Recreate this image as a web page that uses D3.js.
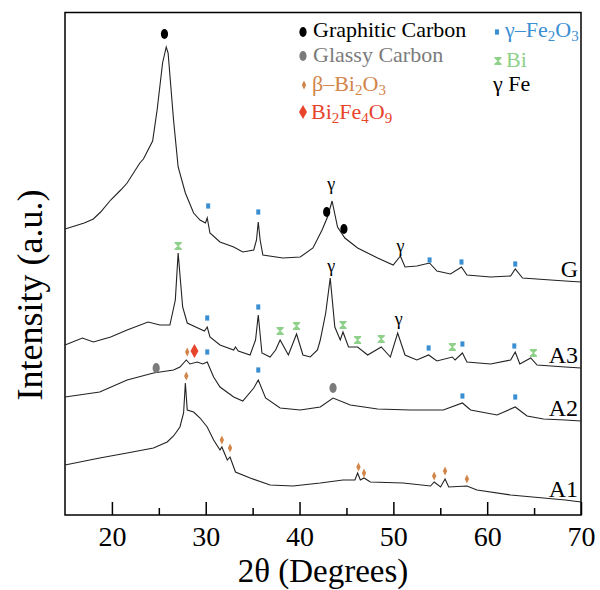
<!DOCTYPE html>
<html>
<head>
<meta charset="utf-8">
<script src="https://cdn.jsdelivr.net/npm/d3@7/dist/d3.min.js"></script>
<style>
  body { margin: 0; background: #fff; }
  svg text, svg tspan { font-family: "Liberation Serif", "Times New Roman", Times, "DejaVu Serif", serif; }
</style>
</head>
<body>
<div id="chart"></div>
<script>
// XRD patterns, [2theta (deg), intensity (a.u., offset stacked)]
var curveG = [[15.0,286],[17.05,292],[18.02,296],[18.8,303],[19.87,315],[20.94,325],[21.62,332],[22.98,352],[23.36,356],
  [24.34,374],[24.82,405],[25.4,452],[25.79,468],[25.99,462],[26.57,395],[27.06,348],[27.83,322],[28.71,302],[29.39,295],
  [29.97,292],[30.16,297],[30.45,282],[31.52,273],[32.98,268],[33.95,263],[35.12,265],[35.41,275],[35.6,293],[35.8,275],
  [36.09,260],[38.22,257],[40.07,258],[41.43,267],[42.4,285],[42.98,298],[43.47,314],[44.05,288],[44.83,277],[46.19,267],
  [48.32,257],[49.98,250],[50.75,259],[51.24,248],[52.5,249],[53.86,252],[54.64,244],[56.09,241],[57.26,248],[57.84,240],
  [60.37,238],[62.5,239],[62.99,246],[63.77,237],[66.78,235],[68.33,234],[70.0,233]];
var curveA3 = [[15.0,170],[16.86,177],[18.02,173],[19.87,178],[21.62,185],[23.85,193],[25.11,190],[26.18,190],[26.76,215],
  [27.06,262],[27.54,208],[28.03,192],[29.39,186],[29.87,184],[30.16,188],[30.45,178],[31.52,170],[32.98,165],[33.17,168],
  [33.47,164],[34.73,160],[35.31,175],[35.6,200],[35.99,162],[36.86,158],[37.45,165],[37.93,175],[38.81,160],[39.68,181],
  [40.36,160],[41.14,158],[41.91,165],[42.21,175],[42.79,202],[43.27,237],[43.76,188],[44.34,175],[44.63,183],[45.22,168],
  [46.19,168],[47.26,160],[48.71,168],[49.68,158],[50.46,182],[51.24,160],[52.5,155],[53.76,160],[54.64,154],[56.29,158],
  [56.58,155],[57.36,162],[57.84,153],[60.37,151],[62.5,155],[62.99,163],[63.48,151],[64.64,157],[65.32,150],[68.33,148],
  [70.0,147]];
var curveA2 = [[15.0,118],[18.7,123],[21.62,135],[24.43,142],[26.57,145],[27.25,148],[27.93,155],[28.32,151],[29.09,153],
  [29.68,151],[30.16,153],[30.84,138],[31.52,128],[32.98,118],[33.95,114],[35.12,127],[35.6,135],[36.38,117],[37.93,107],
  [40.07,105],[42.21,108],[43.57,117],[45.41,110],[48.32,106],[51.82,105],[55.32,105],[57.36,112],[58.23,105],[61.05,100],
  [62.99,108],[64.25,99],[66.0,96],[68.33,95],[70.0,94]];
var curveA1 = [[15.0,50],[18.7,57],[21.62,62],[24.43,67],[25.89,73],[26.57,79],[27.25,88],[27.64,102],[27.83,132],[28.03,105],
  [28.71,103],[29.39,97],[30.16,88],[30.84,75],[31.52,65],[31.72,68],[32.3,55],[32.59,58],[33.17,43],[34.73,37],[36.86,30],
  [39.29,29],[42.21,32],[44.63,35],[45.9,35],[46.19,42],[46.48,35],[46.87,37],[47.55,33],[51.04,32],[53.96,29],[54.35,33],
  [55.03,28],[55.51,36],[55.9,28],[57.84,29],[58.91,25],[62.5,20],[66.0,17],[68.33,15],[70.0,13]];

var sampleNames = ["G", "A3", "A2", "A1"];

// phase markers: [2theta, intensity]
var graphiticPeaks = [[25.6,481],[42.89,303],[44.73,286]];
var glassyPeaks = [[24.72,147],[43.57,127]];
var fe2o3Peaks = [[30.26,309],[35.6,303],[53.86,255],[57.26,253],[62.99,251],
  [30.16,197],[35.6,208],[53.76,167],[57.36,171],[62.89,169],
  [30.16,163],[35.6,145],[57.36,119],[62.99,118]];
var biPeaks = [[27.06,269],[37.93,184],[39.68,189],[44.63,190],[46.19,175],[48.71,176],[56.29,168],[64.93,162]];
var feGammaPeaks = [[43.37,330],[50.75,268],[43.37,248],[50.56,195]];
var bi2o3Peaks = [[28.03,163],[27.93,139],[31.72,75],[32.59,67],[46.28,48],[46.87,42],[54.35,39],[55.51,44],[57.84,36]];
var bi2fe4o9Peaks = [[28.8,164]];

var majorTicks = [20, 30, 40, 50, 60, 70];
var minorTicks = [25, 35, 45, 55, 65];

var width = 600,
    height = 590,
    margin = { top: 12, right: 19, bottom: 75, left: 65 };

var colors = {
    graphitic: "#000000",
    glassy: "#7b7b7b",
    fe2o3: "#3a8fd3",
    bi: "#8fd18a",
    bi2o3: "#d2864a",
    bi2fe4o9: "#e8442c"
};

var svg = d3.select("#chart")
    .append("svg")
    .attr("width", width)
    .attr("height", height);

var x = d3.scaleLinear()
    .domain([15, 70])
    .range([margin.left, width - margin.right]);

var y = d3.scaleLinear()
    .domain([0, 503])
    .range([height - margin.bottom, margin.top]);

// frame
svg.append("rect")
    .attr("x", x(15))
    .attr("y", y(502.5))
    .attr("width", x(70) - x(15))
    .attr("height", y(0) - y(502.5))
    .attr("fill", "none")
    .attr("stroke", "#000")
    .attr("stroke-width", 1.5);

// inward ticks on the bottom axis
var xAxis = svg.append("g")
    .attr("transform", "translate(0," + y(0) + ")")
    .call(d3.axisBottom(x).tickValues(majorTicks).tickSize(-13).tickPadding(11).tickFormat(d3.format("d")));
xAxis.attr("font-family", null);
xAxis.select(".domain").remove();
xAxis.selectAll("line").attr("stroke-width", 1.5);
xAxis.selectAll("text")
    .attr("font-size", 28)
    .attr("fill", "#000");

var xMinor = svg.append("g")
    .attr("transform", "translate(0," + y(0) + ")")
    .call(d3.axisBottom(x).tickValues(minorTicks).tickSize(-7).tickFormat(""));
xMinor.select(".domain").remove();
xMinor.selectAll("line").attr("stroke-width", 1.5);

// axis titles
svg.append("text")
    .attr("x", (x(15) + x(70)) / 2)
    .attr("y", 582)
    .attr("text-anchor", "middle")
    .attr("font-size", 33)
    .text("2θ (Degrees)");

svg.append("text")
    .attr("transform", "translate(42,295) rotate(-90)")
    .attr("text-anchor", "middle")
    .attr("font-size", 36)
    .text("Intensity (a.u.)");

// patterns
var patterns = [curveG, curveA3, curveA2, curveA1];

var line = d3.line()
    .x(function (d) { return x(d[0]); })
    .y(function (d) { return y(d[1]); });

svg.append("g")
    .attr("class", "patterns")
    .selectAll("path")
    .data(patterns)
    .enter()
    .append("path")
    .attr("d", line)
    .attr("fill", "none")
    .attr("stroke", "#222")
    .attr("stroke-width", 1.1);

// sample names sit just above the right end of each pattern
svg.append("g")
    .selectAll("text")
    .data(sampleNames)
    .enter()
    .append("text")
    .attr("x", x(70) - 3)
    .attr("y", function (d, i) { return y(patterns[i][patterns[i].length - 1][1]) - 5; })
    .attr("text-anchor", "end")
    .attr("font-size", 24)
    .text(function (d) { return d; });

// marker shapes
function drawMarkers(data, kind) {
    var g = svg.append("g").attr("class", "markers-" + kind);
    var sel = g.selectAll("g")
        .data(data)
        .enter()
        .append("g")
        .attr("transform", function (d) { return "translate(" + x(d[0]) + "," + y(d[1]) + ")"; });
    addShape(sel, kind);
}

function addShape(sel, kind) {
    if (kind === "graphitic" || kind === "glassy") {
        sel.append("ellipse").attr("rx", 3.6).attr("ry", 5).attr("fill", colors[kind]);
    } else if (kind === "fe2o3") {
        sel.append("rect").attr("x", -2).attr("y", -2.6).attr("width", 4).attr("height", 5.2).attr("fill", colors.fe2o3);
    } else if (kind === "bi") {
        sel.append("path").attr("d", "M-3.6,-4L3.6,-4L3.6,-2.8L0.6,0L3.6,2.8L3.6,4L-3.6,4L-3.6,2.8L-0.6,0L-3.6,-2.8Z")
            .attr("fill", colors.bi);
    } else if (kind === "bi2o3") {
        sel.append("path").attr("d", "M0,-4.5L2.2,0L0,4.5L-2.2,0Z").attr("fill", colors.bi2o3);
    } else if (kind === "bi2fe4o9") {
        sel.append("path").attr("d", "M0,-7L4,0L0,7L-4,0Z").attr("fill", colors.bi2fe4o9);
    } else if (kind === "gamma") {
        sel.append("text").attr("text-anchor", "middle").attr("y", 5).attr("font-size", 18).text("γ");
    }
}

drawMarkers(graphiticPeaks, "graphitic");
drawMarkers(glassyPeaks, "glassy");
drawMarkers(fe2o3Peaks, "fe2o3");
drawMarkers(biPeaks, "bi");
drawMarkers(feGammaPeaks, "gamma");
drawMarkers(bi2o3Peaks, "bi2o3");
drawMarkers(bi2fe4o9Peaks, "bi2fe4o9");

// legend
var legendItems = [
    { kind: "graphitic", px: 303, py: 32, tx: 313, ty: 37, color: colors.graphitic, parts: [["Graphitic Carbon", 0]] },
    { kind: "glassy", px: 303, py: 56, tx: 313, ty: 62, color: colors.glassy, parts: [["Glassy Carbon", 0]] },
    { kind: "bi2o3", px: 304, py: 85, tx: 312, ty: 91, color: colors.bi2o3, parts: [["β–Bi", 0], ["2", 1], ["O", 0], ["3", 1]] },
    { kind: "bi2fe4o9", px: 303, py: 112, tx: 311, ty: 119, color: colors.bi2fe4o9, parts: [["Bi", 0], ["2", 1], ["Fe", 0], ["4", 1], ["O", 0], ["9", 1]] },
    { kind: "fe2o3", px: 497, py: 32, tx: 505, ty: 37, color: colors.fe2o3, parts: [["γ–Fe", 0], ["2", 1], ["O", 0], ["3", 1]] },
    { kind: "bi", px: 498, py: 61, tx: 506, ty: 67, color: colors.bi, parts: [["Bi", 0]] },
    { kind: "none", px: 0, py: 0, tx: 493, ty: 91, color: "#000", parts: [["γ Fe", 0]] }
];

var legend = svg.append("g").attr("class", "legend");
legendItems.forEach(function (item) {
    if (item.kind !== "none") {
        var m = legend.append("g").attr("transform", "translate(" + item.px + "," + item.py + ")");
        addShape(m, item.kind);
    }
    var t = legend.append("text")
        .attr("x", item.tx)
        .attr("y", item.ty)
        .attr("font-size", 22)
        .attr("fill", item.color);
    var shift = 0;
    item.parts.forEach(function (p) {
        var dy = p[1] ? 4 - shift : -shift;
        shift = p[1] ? 4 : 0;
        t.append("tspan")
            .attr("dy", dy)
            .attr("font-size", p[1] ? 15 : 22)
            .text(p[0]);
    });
});
</script>
</body>
</html>
